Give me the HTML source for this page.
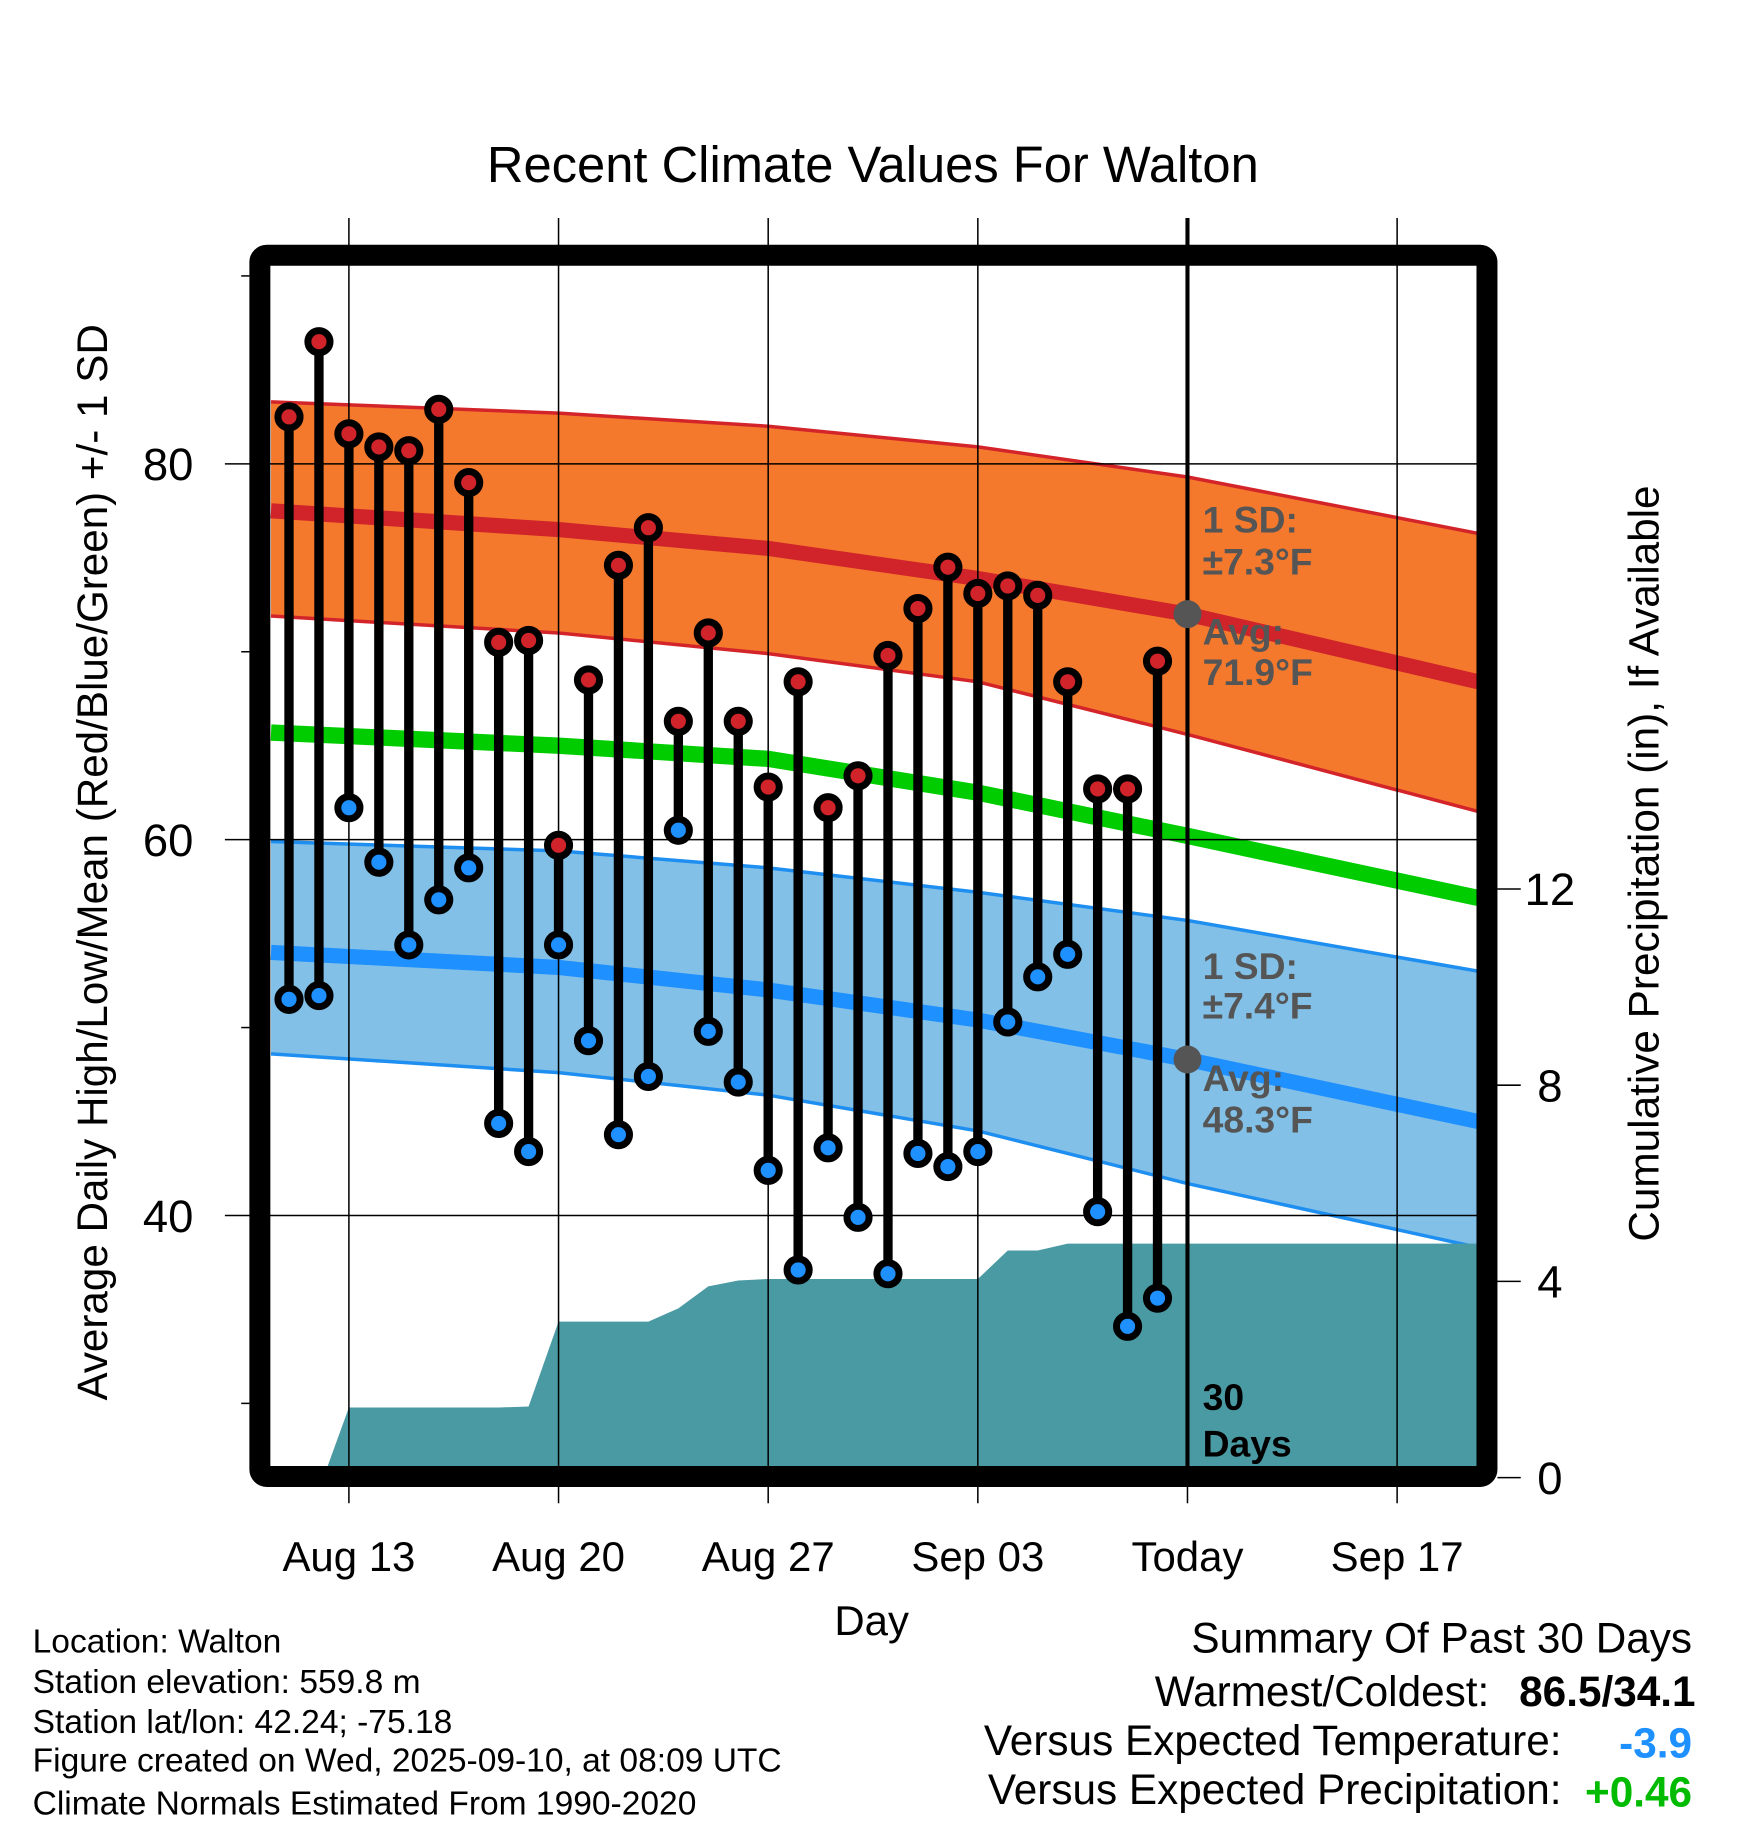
<!DOCTYPE html>
<html><head><meta charset="utf-8"><style>html,body{margin:0;padding:0;background:#fff}svg{display:block}text{font-family:"Liberation Sans",sans-serif}</style></head>
<body>
<svg id="c" width="1748" height="1828" viewBox="0 0 1500 1568.6" xmlns="http://www.w3.org/2000/svg">
<defs><clipPath id="pc"><rect x="232" y="228" width="1036" height="1032"/></clipPath></defs>
<text x="749" y="156" font-size="43.5" text-anchor="middle">Recent Climate Values For Walton</text>
<g id="plot" clip-path="url(#pc)"></g>
<g id="over"></g>
<rect x="223" y="219" width="1053" height="1048" rx="6" fill="none" stroke="#000" stroke-width="18"/>
<text transform="translate(92,740) rotate(-90)" font-size="36.2" text-anchor="middle">Average Daily High/Low/Mean (Red/Blue/Green) +/- 1 SD</text>
<text transform="translate(1423,741) rotate(-90)" font-size="36.3" text-anchor="middle">Cumulative Precipitation (in), If Available</text>
<text x="748" y="1403" font-size="36" text-anchor="middle">Day</text>
<g font-size="28.8">
<text x="28" y="1418">Location: Walton</text>
<text x="28" y="1453">Station elevation: 559.8 m</text>
<text x="28" y="1487">Station lat/lon: 42.24; -75.18</text>
<text x="28" y="1520">Figure created on Wed, 2025-09-10, at 08:09 UTC</text>
<text x="28" y="1557">Climate Normals Estimated From 1990-2020</text>
</g>
<g font-size="36.3">
<text x="1452" y="1418" text-anchor="end">Summary Of Past 30 Days</text>
<text x="1278" y="1464" text-anchor="end">Warmest/Coldest:</text>
<text x="1455" y="1464" text-anchor="end" font-weight="bold">86.5/34.1</text>
<text x="1340" y="1506" text-anchor="end">Versus Expected Temperature:</text>
<text x="1452" y="1508" text-anchor="end" font-weight="bold" fill="#1e90ff">-3.9</text>
<text x="1340" y="1548" text-anchor="end">Versus Expected Precipitation:</text>
<text x="1452" y="1550" text-anchor="end" font-weight="bold" fill="#00bb00">+0.46</text>
</g>
</svg>
<script>
const highs=[82.5,86.5,81.6,80.9,80.7,82.9,79.0,70.5,70.6,59.7,68.5,74.6,76.6,66.3,71.0,66.3,62.8,68.4,61.7,63.4,69.8,72.3,74.5,73.1,73.5,73.0,68.4,62.7,62.7,69.5];
const lows=[51.5,51.7,61.7,58.8,54.4,56.8,58.5,44.9,43.4,54.4,49.3,44.3,47.4,60.5,49.8,47.1,42.4,37.1,43.6,39.9,36.9,43.3,42.6,43.4,50.3,52.7,53.9,40.2,34.1,35.6];
const precip=[0,0,1.43,1.43,1.43,1.43,1.43,1.43,1.45,3.18,3.18,3.18,3.18,3.45,3.9,4.02,4.05,4.05,4.05,4.05,4.05,4.05,4.05,4.05,4.63,4.63,4.77,4.77,4.77,4.77];
const normDays=[-0.6,9,16,23,30,39.7];
const hiMean=[77.5,76.5,75.5,73.9,72.0,68.4];
const hiUp=[83.3,82.7,82.0,80.9,79.3,76.3];
const hiLo=[71.9,71.0,69.9,68.4,65.6,61.5];
const avgMean=[65.7,65.0,64.3,62.5,60.2,56.9];
const loMean=[54.0,53.2,52.0,50.4,48.3,45.0];
const loUp=[59.9,59.4,58.5,57.2,55.7,53.0];
const loLo=[48.6,47.6,46.4,44.5,41.7,38.3];
const xTickDays=[2,9,16,23,30,37];
const xTickLabels=["Aug 13","Aug 20","Aug 27","Sep 03","Today","Sep 17"];
const yTicks=[40,60,80];
const yMinor=[30,50,70,90];
const y2Ticks=[0,4,8,12];
const todayDay=30;
const ns="http://www.w3.org/2000/svg";
const X=d=>248+d*25.7;
const Y=t=>398+(80-t)*16.125;
const Y2=p=>1268-p*42.1;
const plot=document.getElementById('plot'),over=document.getElementById('over');
function mk(tag,at,par){const e=document.createElementNS(ns,tag);for(const k in at)e.setAttribute(k,at[k]);par.appendChild(e);return e;}
function band(up,lo,fill,stroke){let d='M'+normDays.map((t,i)=>X(t)+','+Y(up[i])).join('L')+'L'+normDays.slice().reverse().map((t,i)=>X(t)+','+Y(lo[lo.length-1-i])).join('L')+'Z';
const p=mk('path',{d:d,fill:fill},plot);
[up,lo].forEach(a=>{const l=mk('polyline',{points:normDays.map((t,i)=>X(t)+','+Y(a[i])).join(' '),fill:'none',stroke:stroke,'stroke-width':3},plot);});}
function line(a,col,w,name){const l=mk('polyline',{points:normDays.map((t,i)=>X(t)+','+Y(a[i])).join(' '),fill:'none',stroke:col,'stroke-width':w},plot);}
band(hiUp,hiLo,'#f4792d','#d3242a');
band(loUp,loLo,'#82c0e7','#1e8ff0');
line(hiMean,'#d0232a',13,'normal-high-line');
line(loMean,'#1e90ff',13,'normal-low-line');
line(avgMean,'#00cc00',14,'normal-mean-line');
let pd='M232,'+Y2(0)+'L'+X(1.15)+','+Y2(0);
precip.forEach((p,i)=>{if(i>=2)pd+='L'+X(i)+','+Y2(p);});
pd+='L1270,'+Y2(precip[precip.length-1])+'L1270,1262L232,1262Z';
const pa=mk('path',{d:pd,fill:'#4a9aa4'},plot);


xTickDays.forEach((d,i)=>{const g=mk('line',{x1:X(d),x2:X(d),y1:187,y2:1290,stroke:'#000','stroke-width':1.3},over);
const t=mk('text',{x:X(d),y:1348,'font-size':36,'text-anchor':'middle'},over);t.textContent=xTickLabels[i];});
yTicks.forEach(v=>{const g=mk('line',{x1:193,x2:1268,y1:Y(v),y2:Y(v),stroke:'#000','stroke-width':1.3},over);
const t=mk('text',{x:166,y:Y(v)+14,'font-size':39,'text-anchor':'end'},over);t.textContent=v;});
yMinor.forEach(v=>{const g=mk('line',{x1:207,x2:214,y1:Y(v),y2:Y(v),stroke:'#000','stroke-width':1.3},over);});
y2Ticks.forEach(v=>{const g=mk('line',{x1:1285,x2:1305,y1:Y2(v),y2:Y2(v),stroke:'#000','stroke-width':1.3},over);
const t=mk('text',{x:1330,y:Y2(v)+14,'font-size':39,'text-anchor':'middle'},over);t.textContent=v;});
const tl=mk('line',{x1:X(todayDay),x2:X(todayDay),y1:187,y2:1262,stroke:'#000','stroke-width':3.5},over);


highs.forEach((h,i)=>{const s=mk('line',{x1:X(i),x2:X(i),y1:Y(h),y2:Y(lows[i]),stroke:'#000','stroke-width':8},over);
const c1=mk('circle',{cx:X(i),cy:Y(h),r:9.5,fill:'#d0232a',stroke:'#000','stroke-width':6},over);
const c2=mk('circle',{cx:X(i),cy:Y(lows[i]),r:9.5,fill:'#1e90ff',stroke:'#000','stroke-width':6},over);});
[hiMean[4],loMean[4]].forEach(v=>{const c=mk('circle',{cx:X(todayDay),cy:Y(v),r:12,fill:'#555'},over);});
const ann=[["1 SD:",457,'#555'],["±7.3°F",493,'#555'],["Avg:",553,'#555'],["71.9°F",588,'#555'],["1 SD:",840,'#555'],["±7.4°F",874,'#555'],["Avg:",936,'#555'],["48.3°F",972,'#555'],["30",1210,'#000'],["Days",1250,'#000']];
ann.forEach(a=>{const t=mk('text',{x:1032,y:a[1],'font-size':32,'font-weight':'bold',fill:a[2]},over);t.textContent=a[0];});
</script>
</body></html>
